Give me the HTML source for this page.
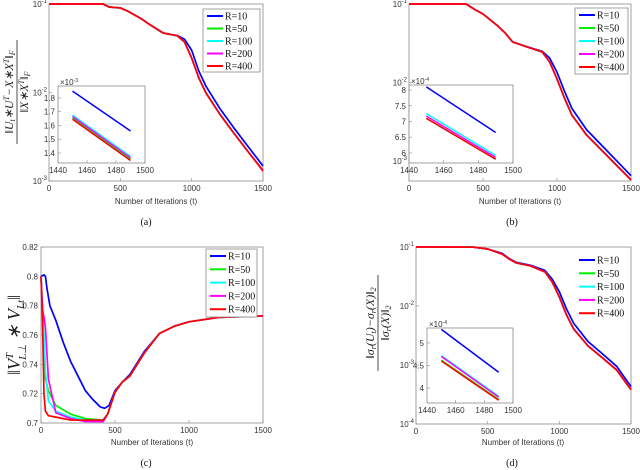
<!DOCTYPE html>
<html><head><meta charset="utf-8"><style>
html,body{margin:0;padding:0;background:#fff;width:640px;height:470px;overflow:hidden}
svg{display:block}
.t{font-family:"Liberation Sans",sans-serif;font-size:8px;fill:#333}
.m{font-family:"Liberation Serif",serif;font-style:italic;fill:#222}
.lg{font-family:"Liberation Serif",serif;font-size:10px;fill:#111}
</style></head><body>
<svg id="fig" width="640" height="470" viewBox="0 0 640 470">
<g transform="translate(13,92) rotate(-90)">
<text class="m" x="0" y="0" text-anchor="middle" font-size="12">‖U<tspan font-size="8" dy="2">t</tspan><tspan dy="-2">∗U</tspan><tspan font-size="8" dy="-4">T</tspan><tspan dy="4">−X∗X</tspan><tspan font-size="8" dy="-4">T</tspan><tspan dy="4">‖</tspan><tspan font-size="8" dy="2">F</tspan></text>
<line x1="-52" y1="4" x2="52" y2="4" stroke="#222" stroke-width="0.8"/>
<text class="m" x="0" y="15" text-anchor="middle" font-size="12">‖X∗X<tspan font-size="8" dy="-4">T</tspan><tspan dy="4">‖</tspan><tspan font-size="8" dy="2">F</tspan></text>
</g>
<text class="m" transform="translate(70,95) rotate(-90)" text-anchor="middle" font-size="20">ℓ(U<tspan font-size="13" dy="4">t</tspan><tspan dy="-4">)</tspan></text>
<text class="m" transform="translate(20,335) rotate(-90)" text-anchor="middle" font-size="18">‖V<tspan font-size="11" dy="-7">T</tspan><tspan font-size="11" dx="-7" dy="13">L⊥</tspan><tspan dy="-6"> ∗ V</tspan><tspan font-size="11" dy="4">Lt</tspan><tspan dy="-4">‖</tspan></text>
<g transform="translate(374,323) rotate(-90)">
<text class="m" x="0" y="0" text-anchor="middle" font-size="12">‖σ<tspan font-size="8" dy="2">r</tspan><tspan dy="-2">(U</tspan><tspan font-size="8" dy="2">t</tspan><tspan dy="-2">)−σ</tspan><tspan font-size="8" dy="2">r</tspan><tspan dy="-2">(X)‖</tspan><tspan font-size="8" dy="2">2</tspan></text>
<line x1="-48" y1="4" x2="48" y2="4" stroke="#222" stroke-width="0.8"/>
<text class="m" x="0" y="15" text-anchor="middle" font-size="12">‖σ<tspan font-size="8" dy="2">r</tspan><tspan dy="-2">(X)‖</tspan><tspan font-size="8" dy="2">2</tspan></text>
</g>
<text class="t" x="156" y="204" text-anchor="middle" font-size="10">Number of Iterations (t)</text>
<text class="t" x="520" y="204" text-anchor="middle" font-size="10">Number of Iterations (t)</text>
<text class="t" x="152" y="445" text-anchor="middle" font-size="10">Number of Iterations (t)</text>
<text class="t" x="523" y="445" text-anchor="middle" font-size="10">Number of Iterations (t)</text>
<text class="lg" x="146" y="225" text-anchor="middle">(a)</text>
<text class="lg" x="512" y="225" text-anchor="middle">(b)</text>
<text class="lg" x="146" y="466" text-anchor="middle">(c)</text>
<text class="lg" x="512" y="466" text-anchor="middle">(d)</text>
</svg>
<script>
// ---- data ----
const names=["R=10","R=50","R=100","R=200","R=400"];
const colors=["#0000ff","#00ee00","#00ffff","#ff00ff","#ff0000"];
const xTicks=[0,500,1000,1500];
const insetXTicks=[1440,1460,1480,1500];
// panel a
const tA=[0,380,420,500,550,650,700,800,900,950,1000,1050,1100,1200,1300,1400,1500];
const aBlue=[0.1,0.1,0.0925,0.0902,0.0834,0.0676,0.0594,0.047,0.044,0.040,0.030,0.0175,0.0118,0.0065,0.0039,0.0024,0.00148];
const aGreen=[0.1,0.1,0.0925,0.0902,0.0834,0.0676,0.0594,0.047,0.0437,0.0372,0.0245,0.0146,0.0099,0.0056,0.0034,0.0021,0.00131];
const aCyan=[0.1,0.1,0.0925,0.0902,0.0834,0.0676,0.0594,0.047,0.0437,0.0373,0.0246,0.0147,0.0100,0.0057,0.0034,0.0021,0.00133];
const aMag=[0.1,0.1,0.0925,0.0902,0.0834,0.0676,0.0594,0.047,0.0437,0.0372,0.0245,0.0147,0.0099,0.0056,0.0034,0.0021,0.00132];
const aRed=[0.1,0.1,0.0925,0.0902,0.0834,0.0676,0.0594,0.047,0.0437,0.0372,0.0245,0.0146,0.0099,0.0056,0.0034,0.0021,0.0013];
const insetT=[1450,1490];
const aInBlue=[1.85,1.56],aInGreen=[1.655,1.355],aInCyan=[1.675,1.375],aInMag=[1.665,1.365],aInRed=[1.645,1.345];
// panel b
const tB=[0,385,450,500,600,650,700,800,900,950,1000,1050,1100,1200,1300,1400,1500];
const bBlue=[0.1,0.1,0.0839,0.0746,0.0525,0.0427,0.033,0.0285,0.025,0.0205,0.0135,0.0078,0.0047,0.0025,0.0016,0.00102,0.00065];
const bGreen=[0.1,0.1,0.0839,0.0746,0.0525,0.0427,0.0328,0.0283,0.0245,0.0183,0.0111,0.00635,0.00386,0.00214,0.00138,0.00089,0.000575];
const bCyan=[0.1,0.1,0.0839,0.0746,0.0525,0.0427,0.0328,0.0283,0.0245,0.0184,0.0112,0.0064,0.0039,0.00216,0.0014,0.0009,0.00058];
const bMag=bGreen.slice();
const bRed=[0.1,0.1,0.0839,0.0746,0.0525,0.0427,0.0328,0.0283,0.0245,0.0183,0.0111,0.00635,0.00386,0.00214,0.00138,0.00089,0.000575];
const bInBlue=[8.1,6.65],bInGreen=[7.1,5.8],bInCyan=[7.25,5.92],bInMag=[7.17,5.86],bInRed=[7.1,5.8];
// panel c
const tCBlue=[0,20,30,40,60,100,150,200,250,300,350,400,430,460,500,550,600,700,800,900,1000,1200,1500];
const cBlue=[0.8,0.801,0.8,0.792,0.78,0.77,0.755,0.742,0.732,0.722,0.716,0.711,0.710,0.712,0.722,0.728,0.733,0.749,0.761,0.766,0.769,0.772,0.773];
const tCLow=[0,10,20,30,50,100,200,300,420,450,500,550,600,700,800,900,1000,1200,1500];
const cGreen=[0.8,0.78,0.75,0.73,0.722,0.712,0.706,0.703,0.702,0.706,0.721,0.728,0.732,0.748,0.761,0.766,0.769,0.772,0.773];
const cCyan=[0.8,0.775,0.76,0.735,0.715,0.708,0.704,0.702,0.702,0.706,0.721,0.728,0.732,0.748,0.761,0.766,0.769,0.772,0.773];
const cMag=[0.8,0.778,0.772,0.765,0.73,0.707,0.703,0.701,0.701,0.706,0.721,0.728,0.732,0.748,0.761,0.766,0.769,0.772,0.773];
const cRed=[0.8,0.77,0.72,0.708,0.705,0.704,0.702,0.702,0.702,0.706,0.721,0.728,0.732,0.748,0.761,0.766,0.769,0.772,0.773];
const cTicks=[0.7,0.72,0.74,0.76,0.78,0.8,0.82];
// panel d
const tD=[0,400,500,600,650,700,800,900,950,1000,1050,1100,1200,1300,1400,1500];
const dBlue=[0.1,0.0995,0.0925,0.078,0.064,0.055,0.049,0.040,0.0285,0.0175,0.0089,0.0051,0.0025,0.00155,0.00095,0.00043];
const dGreen=[0.1,0.0995,0.0925,0.076,0.0627,0.0536,0.0477,0.0377,0.0255,0.0142,0.00703,0.00407,0.0021,0.00132,0.00082,0.00038];
const dCyan=[0.1,0.0995,0.0925,0.076,0.0627,0.0536,0.0477,0.0378,0.0256,0.0143,0.0071,0.0041,0.00212,0.00133,0.00083,0.00039];
const dMag=dCyan.slice();
const dRed=[0.1,0.0995,0.0925,0.076,0.0627,0.0536,0.0477,0.0377,0.0255,0.0142,0.00703,0.00407,0.0021,0.00132,0.00082,0.00038];
const dInBlue=[5.3,4.35],dInGreen=[4.62,3.75],dInCyan=[4.72,3.82],dInMag=[4.7,3.8],dInRed=[4.6,3.73];

// ---- drawing ----
const NS="http://www.w3.org/2000/svg";
const fig=document.getElementById('fig');
function mk(tag,parent,attrs){const e=document.createElementNS(NS,tag);for(const k in attrs)e.setAttribute(k,attrs[k]);parent.appendChild(e);return e;}
function linScale(d0,d1,r0,r1){return v=>r0+(v-d0)/(d1-d0)*(r1-r0);}
function logScale(d0,d1,r0,r1){return v=>r0+(Math.log10(v)-Math.log10(d0))/(Math.log10(d1)-Math.log10(d0))*(r1-r0);}
function supLabel(g,x,y,exp,name){const t=mk('text',g,{class:'t',x:x,y:y,'text-anchor':'end'});


t.innerHTML='10<tspan font-size="6" dy="-4">'+exp+'</tspan>';}

function drawAxes(g,box,sx,sy,xt,yt,yfmt,prefix,fs){
  mk('rect',g,{x:box[0],y:box[1],width:box[2]-box[0],height:box[3]-box[1],fill:'#fff',stroke:'#8a8a8a','stroke-width':0.8});
  xt.forEach(v=>{const x=sx(v);
    const tk=mk('line',g,{x1:x,x2:x,y1:box[3],y2:box[3]-3,stroke:'#8a8a8a','stroke-width':0.6});
    
    
    const t=mk('text',g,{class:'t',x:x,y:box[3]+10,'text-anchor':'middle','font-size':fs});t.textContent=v;
    
    });
  yt.forEach(v=>{const y=sy(v);
    mk('line',g,{x1:box[0],x2:box[0]+3,y1:y,y2:y,stroke:'#8a8a8a','stroke-width':0.6});
    if(yfmt==='log'){supLabel(g,box[0]-2,y+3,Math.round(Math.log10(v)),prefix+'y-tick-label');}
    else{const t=mk('text',g,{class:'t',x:box[0]-3,y:y+3,'text-anchor':'end','font-size':fs});t.textContent=yfmt(v);
    
    }});
}
function series(g,ts,vs,sx,sy,color,name,w){
  const pts=ts.map((t,i)=>sx(t).toFixed(2)+','+sy(vs[i]).toFixed(2)).join(' ');
  const p=mk('polyline',g,{points:pts,fill:'none',stroke:color,'stroke-width':w,'stroke-linejoin':'round'});
  
  
}
function legend(g,x,y,w,h,step,border,prefix){
  const r=mk('rect',g,{x:x,y:y,width:w,height:h,fill:'#fff',stroke:border?'#8a8a8a':'none','stroke-width':0.8});
  
  
  names.forEach((n,i)=>{const yy=y+7+i*step;
    const l=mk('line',g,{x1:x+4,x2:x+20,y1:yy,y2:yy,stroke:colors[i],'stroke-width':2});
    
    
    const t=mk('text',g,{class:'lg',x:x+22,y:yy+3.5});t.textContent=n;
    
    });
}
function inset(g,box,yr,yt,data,exp,prefix){
  const sx=linScale(1440,1500,box[0],box[2]);const sy=linScale(yr[0],yr[1],box[3],box[1]);
  drawAxes(g,box,sx,sy,insetXTicks,yt,v=>String(v),prefix+'inset-',7.5);
  const e=mk('text',g,{class:'t',x:box[0]+2,y:box[1]-1,'font-size':7});
  
  
  e.innerHTML='×10<tspan font-size="5" dy="-3">'+exp+'</tspan>';
  data.forEach((d,i)=>series(g,insetT,d,sx,sy,colors[i],prefix+'inset-line-'+names[i].toLowerCase().replace('=',''),1.5));
}
function panel(id,box,sy,yt,yfmt,data,tsArr,leg,ins){
  const g=mk('g',fig,{});
  
  
  const sx=linScale(0,1500,box[0],box[2]);
  drawAxes(g,box,sx,sy,xTicks,yt,yfmt,id+'-',8);
  data.forEach((d,i)=>series(g,tsArr[i],d,sx,sy,colors[i],id+'-line-'+names[i].toLowerCase().replace('=',''),1.7));
  legend(g,leg[0],leg[1],leg[2],leg[3],leg[4],leg[5],id+'-');
  if(ins)inset(g,ins.box,ins.yr,ins.yt,ins.data,ins.exp,id+'-');
}
// a
panel('a',[49,4,263,181],logScale(0.1,0.001,4,181),[0.1,0.01,0.001],'log',
  [aBlue,aGreen,aCyan,aMag,aRed],[tA,tA,tA,tA,tA],[203,9,57,63,12.5,true],
  {box:[58,86,145,163],yr:[1.327,1.887],yt:[1.4,1.5,1.6,1.7,1.8],data:[aInBlue,aInGreen,aInCyan,aInMag,aInRed],exp:'-3'});
// b
panel('b',[409,4,631,181],logScale(0.1,0.001,4,161),[0.1,0.01,0.001],'log',
  [bBlue,bGreen,bCyan,bMag,bRed],[tB,tB,tB,tB,tB],[575,8,53,66,13,true],
  {box:[409,85,513,163],yr:[5.68,8.16],yt:[6,6.5,7,7.5,8],data:[bInBlue,bInGreen,bInCyan,bInMag,bInRed],exp:'-4'});
// c
panel('c',[41,247,263,423],linScale(0.7,0.82,423,247),cTicks,v=>String(v),
  [cBlue,cGreen,cCyan,cMag,cRed],[tCBlue,tCLow,tCLow,tCLow,tCLow],[206,249,51,68,13.3,true],null);
// d
panel('d',[416,247,631,424],logScale(0.1,0.0001,247,424),[0.1,0.01,0.001,0.0001],'log',
  [dBlue,dGreen,dCyan,dMag,dRed],[tD,tD,tD,tD,tD],[575,253,52,62,13.3,false],
  {box:[427,328,513,403],yr:[3.67,5.33],yt:[4,4.5,5],data:[dInBlue,dInGreen,dInCyan,dInMag,dInRed],exp:'-4'});
</script>
</body></html>
